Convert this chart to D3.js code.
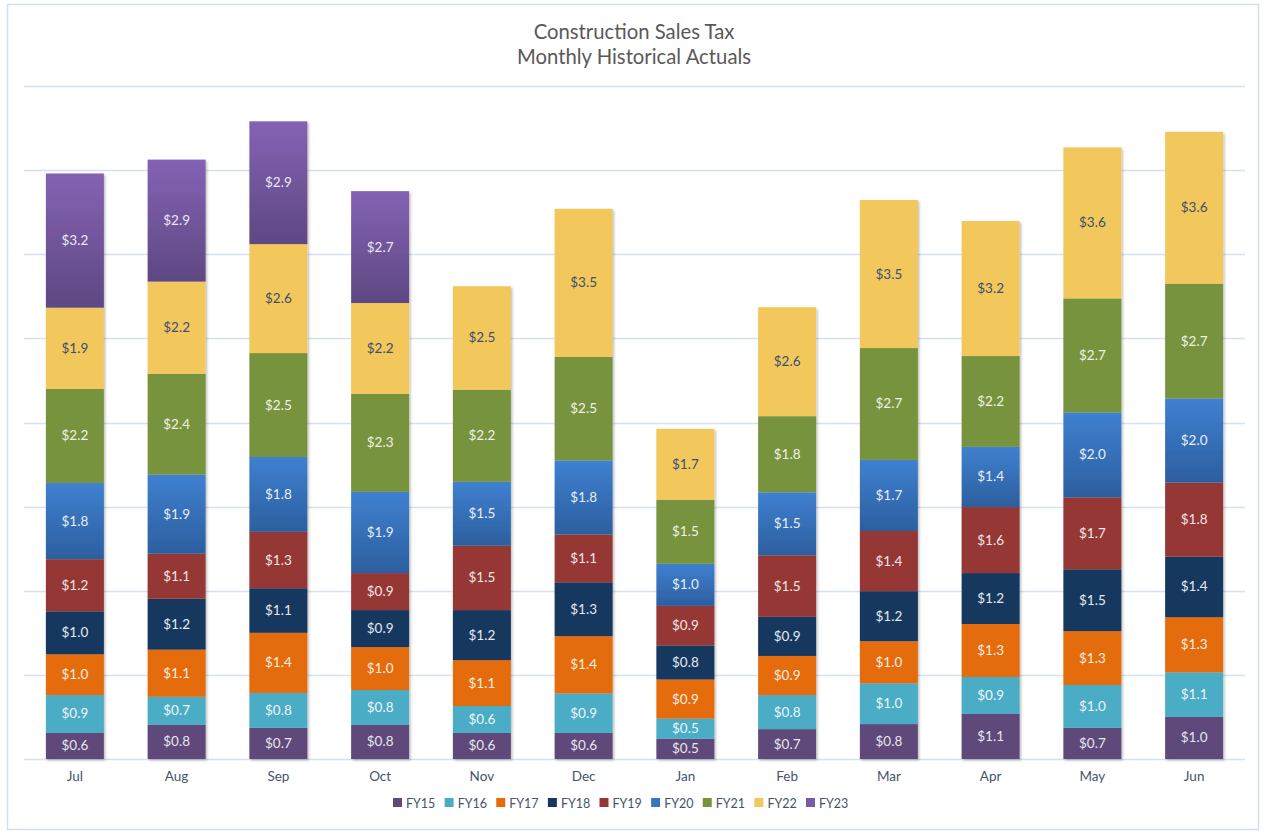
<!DOCTYPE html>
<html><head><meta charset="utf-8">
<script src="https://cdn.jsdelivr.net/npm/d3@7"></script>
<style>
html,body{margin:0;padding:0;background:#fff;}
svg{display:block;font-family:Lato,"Open Sans",sans-serif;}
</style></head>
<body>
<svg id="chart" width="1265" height="835"></svg>
<script>
const months = ["Jul","Aug","Sep","Oct","Nov","Dec","Jan","Feb","Mar","Apr","May","Jun"];
const seriesNames = ["FY15","FY16","FY17","FY18","FY19","FY20","FY21","FY22","FY23"];
const FY15 = [0.62,0.81,0.74,0.81,0.62,0.62,0.48,0.71,0.83,1.07,0.74,1.00];
const FY16 = [0.90,0.67,0.83,0.83,0.64,0.94,0.48,0.81,0.97,0.88,1.02,1.06];
const FY17 = [0.97,1.12,1.43,1.02,1.09,1.36,0.93,0.93,1.00,1.26,1.28,1.31];
const FY18 = [1.02,1.21,1.06,0.88,1.19,1.28,0.81,0.93,1.19,1.21,1.47,1.44];
const FY19 = [1.24,1.07,1.34,0.88,1.53,1.14,0.94,1.46,1.43,1.57,1.71,1.76];
const FY20 = [1.81,1.88,1.78,1.93,1.52,1.76,1.00,1.50,1.69,1.43,2.02,2.00];
const FY21 = [2.24,2.40,2.47,2.33,2.19,2.46,1.52,1.81,2.66,2.16,2.71,2.73];
const FY22 = [1.93,2.19,2.59,2.16,2.46,3.52,1.69,2.59,3.52,3.21,3.59,3.61];
const FY23 = [3.19,2.90,2.92,2.66,null,null,null,null,null,null,null,null];
const yTicks = [0,2,4,6,8,10,12,14,16];
const titleLines = ["Construction Sales Tax","Monthly Historical Actuals"];

const seriesData = [FY15,FY16,FY17,FY18,FY19,FY20,FY21,FY22,FY23];
const colors = ["#5f497a","#4bacc6","#e46c0a","#17375e","#953735","#3a76c0","#77933c","#f2c75c","#7a5aa6"];
const labelColors = ["#e6e6ee","#eef6fa","#fbeee2","#e6e9ef","#f3e6e6","#e8eef7","#eef2e6","#3d4f6e","#ece6f3"];

const table = months.map((m,i)=>{
  const o = {month:m};
  seriesNames.forEach((s,j)=>{ o[s] = seriesData[j][i] || 0; });
  return o;
});
const stacked = d3.stack().keys(seriesNames)(table);

const svg = d3.select("#chart");
const plotLeft = 24, plotRight = 1245, plotTop = 86, plotBottom = 759;

// outer border
svg.append("rect").attr("x",7.5).attr("y",4.5).attr("width",1251).attr("height",825)
  .attr("fill","#fff").attr("stroke","#d0dff0").attr("stroke-width",1.5);

const defs = svg.append("defs");
function grad(id, c1, c2){
  const g = defs.append("linearGradient").attr("id",id).attr("x1",0).attr("y1",0).attr("x2",0).attr("y2",1);
  g.append("stop").attr("offset","0%").attr("stop-color",c1);
  g.append("stop").attr("offset","100%").attr("stop-color",c2);
}
grad("g20","#3f80d0","#2c5f9f");
grad("g23","#8462b4","#5e4882");
const fills = colors.map((c,i)=> i===5 ? "url(#g20)" : i===8 ? "url(#g23)" : c);

const f = defs.append("filter").attr("id","sh").attr("x","-10%").attr("y","-10%").attr("width","130%").attr("height","130%");
f.append("feDropShadow").attr("dx",1.5).attr("dy",1.5).attr("stdDeviation",1.2).attr("flood-color","#000").attr("flood-opacity",0.25);

const x = d3.scaleBand().domain(months).range([plotLeft,plotRight]).paddingInner(0.43).paddingOuter(0.215);
const y = d3.scaleLinear().domain([0,16]).range([plotBottom,plotTop]);

// gridlines
svg.append("g").selectAll("line").data(yTicks).join("line")
  .attr("x1",plotLeft).attr("x2",plotRight)
  .attr("y1",d=>Math.round(y(d))+0.5).attr("y2",d=>Math.round(y(d))+0.5)
  .attr("stroke","#d6e2f0").attr("stroke-width",1.3);

// title
svg.append("g").selectAll("text").data(titleLines).join("text")
  .attr("x",634).attr("y",(d,i)=>39+i*25).attr("text-anchor","middle")
  .attr("font-size",20.3).attr("fill","#595959").text(d=>d);

// bars
const barG = svg.append("g").attr("filter","url(#sh)");
stacked.forEach((layer,j)=>{
  barG.append("g").selectAll("rect").data(layer.filter(d=>d[1]-d[0]>0)).join("rect")
    .attr("x",d=>x(d.data.month)).attr("width",x.bandwidth())
    .attr("y",d=>y(d[1])).attr("height",d=>y(d[0])-y(d[1]))
    .attr("fill",fills[j]);
});
const labG = svg.append("g");
stacked.forEach((layer,j)=>{
  labG.append("g").selectAll("text").data(layer.filter(d=>d[1]-d[0]>0)).join("text")
    .attr("x",d=>x(d.data.month)+x.bandwidth()/2)
    .attr("y",d=>(y(d[0])+y(d[1]))/2+4.5)
    .attr("text-anchor","middle").attr("font-size",13.5)
    .attr("fill",labelColors[j])
    .text(d=>"$"+(d[1]-d[0]).toFixed(1));
});

// x axis labels
const xAxis = d3.axisBottom(x).tickSize(0).tickPadding(12);
const ax = svg.append("g").attr("transform",`translate(0,${plotBottom})`).call(xAxis);
ax.select(".domain").remove();
ax.selectAll("text").attr("font-size",13.5).attr("fill","#44546a").attr("font-family","Lato,'Open Sans',sans-serif");

// legend
const legX = d3.scalePoint().domain(seriesNames).range([393,806]);
const lg = svg.append("g").selectAll("g").data(seriesNames).join("g")
  .attr("transform",d=>`translate(${legX(d)},803)`);
lg.append("rect").attr("x",0).attr("y",-5).attr("width",9).attr("height",9)
  .attr("fill",(d,i)=>colors[i]);
lg.append("text").attr("x",13).attr("y",4.5).attr("font-size",12.5).attr("fill","#44546a").text(d=>d);
</script>
</body></html>
